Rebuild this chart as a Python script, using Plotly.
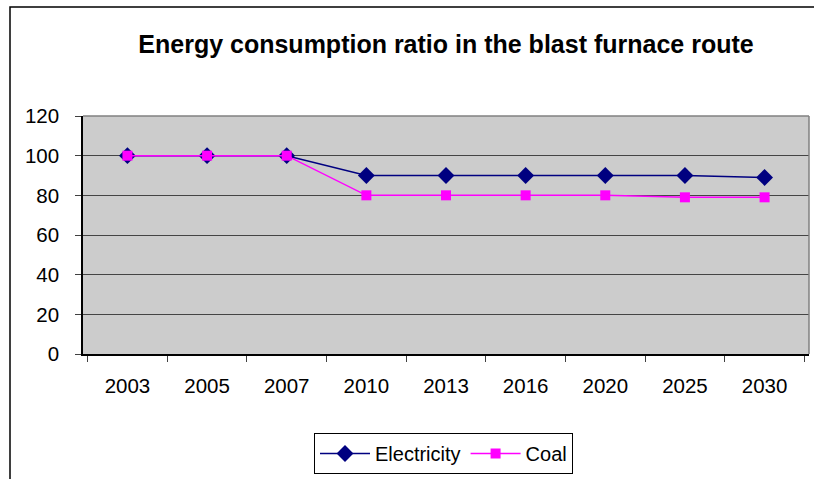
import plotly.graph_objects as go

years = ["2003", "2005", "2007", "2010", "2013", "2016", "2020", "2025", "2030"]
electricity = [100, 100, 100, 90, 90, 90, 90, 90, 89]
coal = [100, 100, 100, 80, 80, 80, 80, 79, 79]
title_text = "Energy consumption ratio in the blast furnace route"

W, H = 814, 479
L, R, T, B = 83, 5, 116, 125
pw, ph = W - L - R, H - T - B

fig = go.Figure()
fig.add_trace(go.Scatter(
    x=years, y=electricity, name="Electricity", mode="lines+markers",
    line=dict(color="#000080", width=1.5),
    marker=dict(symbol="diamond", size=13, color="#000080"),
))
fig.add_trace(go.Scatter(
    x=years, y=coal, name="Coal", mode="lines+markers",
    line=dict(color="#FF00FF", width=1.5),
    marker=dict(symbol="square", size=10, color="#FF00FF"),
))

def px_x(p):
    return (p - L) / pw

def px_y(p):
    return (H - B - p) / ph

fig.add_shape(type="rect", xref="paper", yref="paper",
              x0=px_x(10), x1=px_x(830), y0=px_y(7), y1=px_y(500),
              line=dict(color="black", width=1.5), fillcolor="rgba(0,0,0,0)",
              layer="below")

fig.update_layout(
    width=W, height=H,
    margin=dict(l=L, r=R, t=T, b=B, autoexpand=False),
    paper_bgcolor="white",
    plot_bgcolor="#CCCCCC",
    font=dict(family="Liberation Sans, Arial, sans-serif", size=20, color="black"),
    title=dict(text="<b>" + title_text + "</b>", x=0.5, xref="paper", xanchor="center",
               y=1 - 44 / H, yanchor="middle",
               font=dict(size=25, color="black")),
    xaxis=dict(
        type="category", tickson="boundaries", ticks="outside", ticklen=6,
        tickcolor="#404040", showline=True, linecolor="black", linewidth=1.5,
        mirror=False, showgrid=False, tickfont=dict(size=20.5),
        ticklabelstandoff=13,
    ),
    yaxis=dict(
        range=[0, 120], tickvals=[0, 20, 40, 60, 80, 100, 120],
        ticks="outside", ticklen=6, tickcolor="#404040",
        showline=True, linecolor="black", linewidth=1.5,
        showgrid=True, gridcolor="#444444", gridwidth=1,
        zeroline=False, tickfont=dict(size=20.5),
        ticklabelstandoff=12,
    ),
    legend=dict(
        orientation="h", x=px_x(314), xanchor="left",
        y=px_y(433), yanchor="top",
        bordercolor="black", borderwidth=1, bgcolor="white",
        font=dict(size=20), itemwidth=50,
    ),
    showlegend=True,
)

fig.add_shape(type="line", xref="paper", yref="paper", x0=1, x1=1, y0=0, y1=1,
              line=dict(color="#808080", width=1.5))
fig.add_shape(type="line", xref="paper", yref="paper", x0=0, x1=1, y0=1, y1=1,
              line=dict(color="#808080", width=1.5))

fig.write_html("out.html", config={"displayModeBar": False},
               post_script="document.body.style.margin='0';document.body.style.overflow='hidden';")
